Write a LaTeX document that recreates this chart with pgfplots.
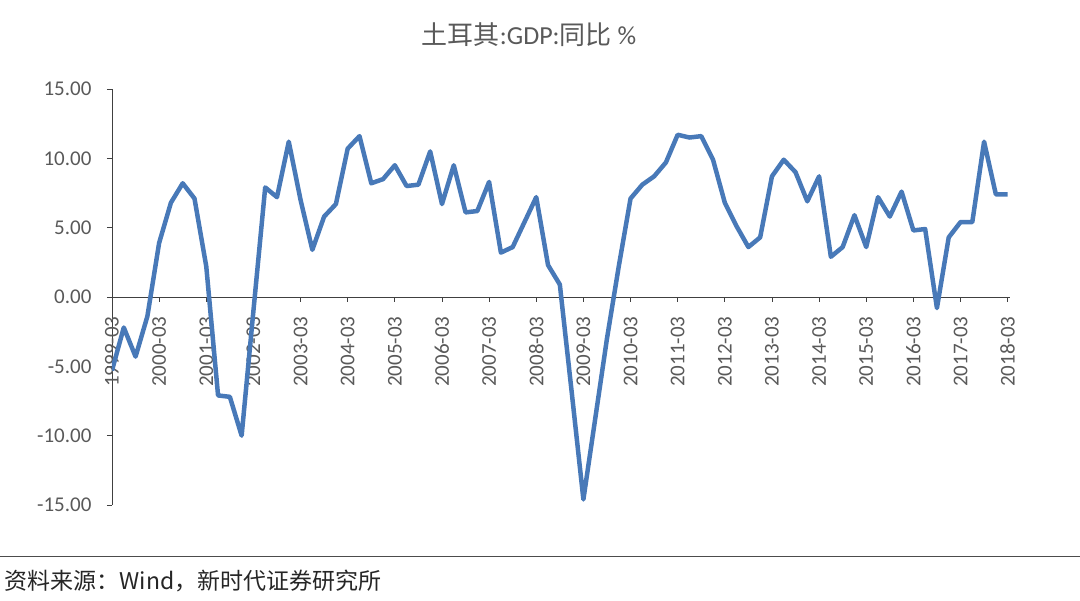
\documentclass[border=0pt]{standalone}
\usepackage{pgfplots}
\pgfplotsset{compat=1.18}
\usepackage{fontspec}
\setmainfont{Carlito}
\newfontfamily\cjk{Noto Sans CJK SC}
\definecolor{line}{RGB}{72,121,184}
\definecolor{txt}{RGB}{89,89,89}
\begin{document}
\begin{tikzpicture}
\useasboundingbox (0,0) rectangle (1080pt,601pt);
\begin{axis}[
  at={(112pt,96pt)}, anchor=south west,
  scale only axis,
  width=898pt, height=416pt,
  xmin=0, xmax=76.2,
  ymin=-15, ymax=15,
  axis x line=middle, axis y line=left,
  axis line style={-, black!75, line width=0.9pt},
  hide obscured x ticks=false, hide obscured y ticks=false,
  tick align=outside, major tick length=5pt,
  tick style={black!75, line width=0.9pt},
  xtick={0,4,...,76},
  xticklabels={1999-03,2000-03,2001-03,2002-03,2003-03,2004-03,2005-03,2006-03,2007-03,2008-03,2009-03,2010-03,2011-03,2012-03,2013-03,2014-03,2015-03,2016-03,2017-03,2018-03},
  xticklabel style={yshift=-11pt, rotate=90, anchor=east, font=\fontsize{21}{21}\selectfont, text=txt},
  ytick={-15,-10,...,15},
  yticklabel style={xshift=-12pt, font=\fontsize{21}{21}\selectfont, text=txt},
  /pgf/number format/.cd, fixed, fixed zerofill, precision=2, assume math mode=true,
]
\addplot[line, line width=4.5pt, line join=round] coordinates {
(0,-5.3) (1,-2.2) (2,-4.3) (3,-1.4) (4,3.9) (5,6.8) (6,8.2) (7,7.1)
(8,2.2) (9,-7.1) (10,-7.2) (11,-10.0) (12,-1.0) (13,7.9) (14,7.2) (15,11.2)
(16,7.0) (17,3.4) (18,5.8) (19,6.7) (20,10.7) (21,11.6) (22,8.2) (23,8.5)
(24,9.5) (25,8.0) (26,8.1) (27,10.5) (28,6.7) (29,9.5) (30,6.1) (31,6.2)
(32,8.3) (33,3.2) (34,3.6) (35,5.4) (36,7.2) (37,2.3) (38,0.9) (39,-6.8)
(40,-14.6) (41,-8.8) (42,-3.0) (43,2.2) (44,7.1) (45,8.1) (46,8.7) (47,9.7)
(48,11.7) (49,11.5) (50,11.6) (51,9.9) (52,6.8) (53,5.1) (54,3.6) (55,4.3)
(56,8.7) (57,9.9) (58,9.0) (59,6.9) (60,8.7) (61,2.9) (62,3.6) (63,5.9)
(64,3.6) (65,7.2) (66,5.8) (67,7.6) (68,4.8) (69,4.9) (70,-0.8) (71,4.3)
(72,5.4) (73,5.4) (74,11.2) (75,7.4) (76,7.4)
};
\end{axis}
\node[text=txt, font=\fontsize{26}{26}\selectfont] at (529pt,566pt) {{\cjk 土耳其}:GDP:{\cjk 同比} \%};
\draw[black!70, line width=1pt] (0pt,44pt) -- (1080pt,44pt);
\node[anchor=west, text=black!85, font=\fontsize{23}{23}\selectfont\cjk] at (1pt,20pt) {资料来源：Wind，新时代证券研究所};
\end{tikzpicture}
\end{document}
